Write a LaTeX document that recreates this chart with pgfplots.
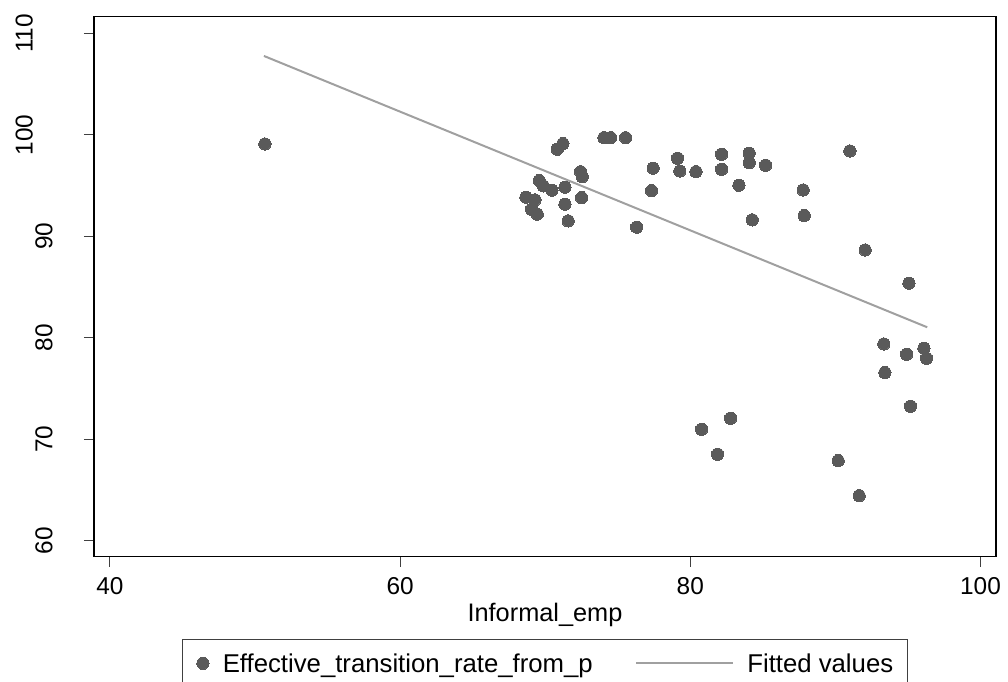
\documentclass[border=0pt]{standalone}
\usepackage{fontspec}
\setmainfont{Liberation Sans}
\usepackage{pgfplots}
\pgfplotsset{compat=1.18}
\definecolor{mk}{HTML}{5A5A5A}
\definecolor{fitc}{HTML}{A0A0A0}
\pgfplotsset{
  scatimg/.style={legend image code/.code={\path (-1.5pt,0pt) (14.5pt,0pt); \draw[##1] plot coordinates {(0pt,1.8pt)};}},
  lineimg/.style={legend image code/.code={\path (-31.7pt,0pt) (82.7pt,0pt); \draw[##1] (0pt,1.8pt) -- (72.5pt,1.8pt);}},
}
\newcommand{\far}{\rule[-15pt]{0pt}{15pt}}
\pgfplotstableread{
x y
50.68 99.11
70.83 98.59
71.22 99.14
74.05 99.73
74.51 99.73
75.54 99.73
69.59 95.50
69.86 94.98
70.46 94.55
71.36 94.85
72.44 96.38
72.55 95.89
68.67 93.86
69.29 93.60
69.06 92.68
69.45 92.19
71.36 93.17
72.51 93.82
71.58 91.53
76.30 90.91
77.44 96.72
77.33 94.51
79.12 97.70
79.28 96.45
80.39 96.38
82.16 98.10
82.16 96.62
84.06 98.20
84.06 97.27
85.19 97.01
83.35 95.04
84.27 91.63
87.78 94.58
87.85 92.05
91.00 98.42
92.05 88.67
95.07 85.39
93.34 79.41
94.91 78.39
96.10 78.99
96.28 78.00
93.41 76.58
80.78 71.00
82.78 72.09
81.88 68.54
90.19 67.91
91.64 64.46
95.18 73.27
}\scatterdata
\begin{document}
\begin{tikzpicture}
\path[use as bounding box] (-70.5pt,-94pt) rectangle (685.5pt,417.5pt);
\begin{axis}[
  at={(0,0)}, anchor=south west,
  scale only axis, width=676.5pt, height=405pt,
  xmin=38.90, xmax=101.07, ymin=58.45, ymax=111.65,
  xtick={40,60,80,100}, ytick={60,70,80,90,100,110},
  yticklabels={60,70,80,90,{\far 100},{\far 110}},
  tick align=outside, major tick length=7.5pt,
  xtick pos=bottom, ytick pos=left,
  tick style={black!75, line width=0.8pt},
  axis line style={black, line width=0.9pt},
  /pgf/number format/assume math mode=true,
  tick label style={font=\fontsize{18.3}{20}\selectfont, inner sep=0pt},
  yticklabel style={rotate=90, anchor=south},
  xticklabel style={anchor=north},
  xticklabel shift=8pt, yticklabel shift=23.25pt,
  xlabel={Informal\_emp},
  xlabel style={at={(axis description cs:0.5,0)}, anchor=base, yshift=-48.75pt, font=\fontsize{19}{22}\selectfont, inner sep=0pt},
  legend columns=2,
  legend style={at={(axis description cs:0.5,0)}, anchor=north, yshift=-61.95pt,
    draw=black!75, line width=0.8pt, inner xsep=10.5pt, inner ysep=10.4pt,
    font=\fontsize{19.3}{22}\selectfont,
    nodes={inner sep=0pt, text height=14.1pt, text depth=4.05pt},
    cells={anchor=west}, column sep=0pt},
]
\addplot[only marks, mark=*, mark size=4.6pt, mark options={fill=mk, draw=mk, line width=0pt}, scatimg]
  table[x=x, y=y] {\scatterdata};
\addlegendentry{Effective\_transition\_rate\_from\_p}
\addplot[fitc, line width=1.5pt, no marks, lineimg]
  coordinates {(50.61,107.78) (96.33,81.05)};
\addlegendentry{Fitted values}
\end{axis}
\end{tikzpicture}
\end{document}
